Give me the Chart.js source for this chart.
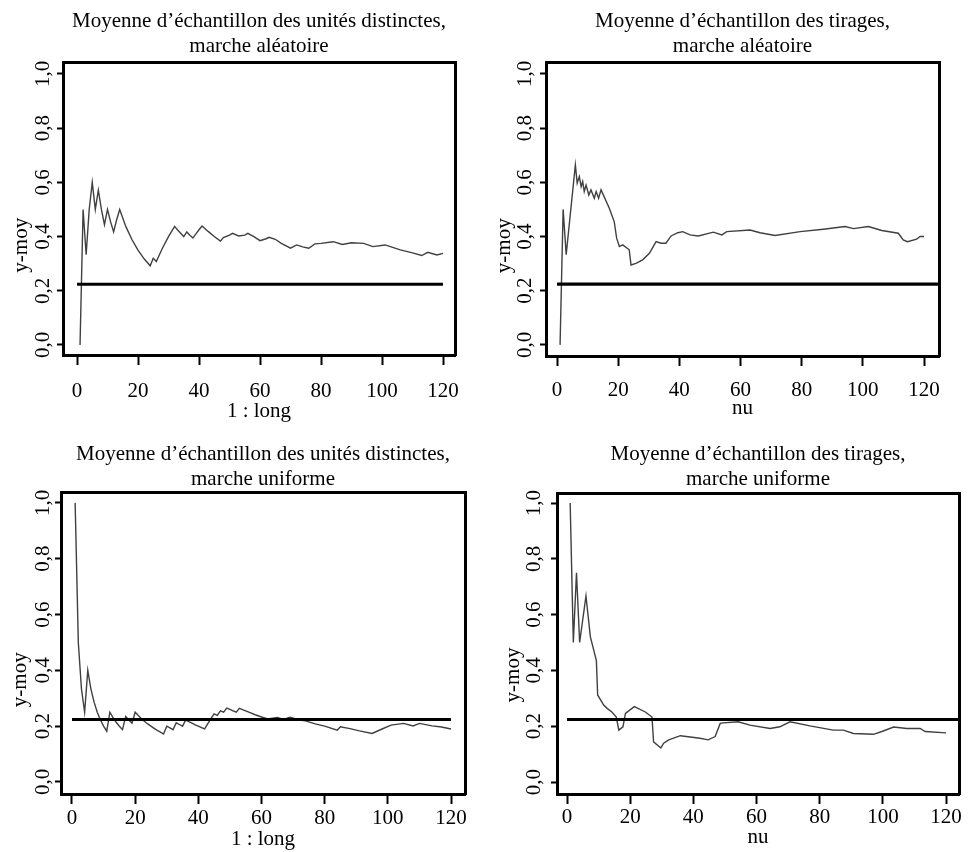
<!DOCTYPE html>
<html><head><meta charset="utf-8">
<script src="https://cdn.jsdelivr.net/npm/chart.js@4.4.1/dist/chart.umd.min.js"></script>
<style>
html,body{margin:0;padding:0;background:#fff;}
#wrap{position:relative;width:968px;height:852px;overflow:hidden;background:#fff;}
.panel{position:absolute;width:484px;height:426px;}
canvas{display:block;}
</style></head><body>
<div id="wrap">
<div class="panel" style="left:0;top:0"><canvas id="c1" width="484" height="426"></canvas></div>
<div class="panel" style="left:484px;top:0"><canvas id="c2" width="484" height="426"></canvas></div>
<div class="panel" style="left:0;top:426px"><canvas id="c3" width="484" height="426"></canvas></div>
<div class="panel" style="left:484px;top:426px"><canvas id="c4" width="484" height="426"></canvas></div>
</div>
<script>
// ---- data ----
const xTickValues = [0, 20, 40, 60, 80, 100, 120];
const yTickValues = [0, 0.2, 0.4, 0.6, 0.8, 1.0];
const yTickLabels = ['0,0', '0,2', '0,4', '0,6', '0,8', '1,0'];
const referenceLevel = 0.224;

const panelTitles = [
  ['Moyenne d\u2019échantillon des unités distinctes,', 'marche aléatoire'],
  ['Moyenne d\u2019échantillon des tirages,', 'marche aléatoire'],
  ['Moyenne d\u2019échantillon des unités distinctes,', 'marche uniforme'],
  ['Moyenne d\u2019échantillon des tirages,', 'marche uniforme']
];
const xTitles = ['1 : long', 'nu', '1 : long', 'nu'];
const yTitle = 'y-moy';

// top-left: distinct units, random walk
const p1x = [1,2,3,4,5,6,7,8,9,10,11,12,13,14,16,18,20,22,24,25,26,28,30,32,33,34,35,36,37,38,39,40,41,43,45,47,48,50,51,53,55,56,58,60,62,63,65,67,70,72,74,76,78,80,84,87,90,94,97,101,106,110,113,115,118,120];
const p1y = [0,0.5,0.333,0.5,0.6,0.5,0.571,0.5,0.444,0.5,0.455,0.417,0.462,0.5,0.4375,0.389,0.35,0.318,0.292,0.32,0.308,0.357,0.4,0.4375,0.424,0.412,0.4,0.417,0.405,0.395,0.41,0.425,0.439,0.419,0.4,0.383,0.396,0.405,0.412,0.402,0.405,0.412,0.4,0.385,0.392,0.397,0.39,0.375,0.357,0.369,0.362,0.357,0.373,0.375,0.381,0.371,0.377,0.375,0.363,0.369,0.351,0.34,0.33,0.342,0.332,0.338];

// top-right: draws, random walk
const p2x = [1,2,3,6,6.6,7.3,7.9,8.4,8.9,9.5,10.4,11.1,12.2,12.8,13.6,14.4,17.1,18.7,19.5,20.4,21.5,23.6,24.2,25.8,28,30.2,32.4,34,35.6,37.3,39.5,41.1,43.5,46.2,51.1,53.9,55.5,63.1,66.4,71.3,79.5,87.1,94.2,96.9,101.8,106.2,111.6,113.2,114.6,117.6,118.7,120];
const p2y = [0,0.5,0.333,0.664,0.597,0.621,0.584,0.603,0.566,0.59,0.553,0.572,0.541,0.566,0.541,0.572,0.504,0.455,0.394,0.363,0.369,0.351,0.295,0.301,0.314,0.338,0.381,0.375,0.375,0.402,0.414,0.418,0.406,0.402,0.416,0.406,0.418,0.424,0.414,0.404,0.418,0.427,0.437,0.429,0.437,0.422,0.412,0.387,0.381,0.39,0.4,0.4];

// bottom-left: distinct units, uniform walk
const p3x = [1,2,3,4,5,6,7,8,9,10,11,12,13,14,15,16,17,18,19,20,21,22,23,24,25,26,27,28,29,30,31,32,33,34,35,36,37,38,39,40,41,42,43,44,45,46,47,48,49,50,51,52,53,54,55,56,58,60,62,65,67,69,72,74,77,80,84,85,88,91,95,98,101,105,108,110,114,117,120];
const p3y = [1,0.5,0.333,0.25,0.4,0.333,0.286,0.25,0.222,0.2,0.182,0.25,0.231,0.214,0.2,0.1875,0.235,0.222,0.211,0.25,0.238,0.227,0.217,0.208,0.2,0.192,0.185,0.179,0.172,0.2,0.194,0.1875,0.212,0.206,0.2,0.222,0.216,0.211,0.205,0.2,0.195,0.19,0.209,0.227,0.244,0.239,0.255,0.25,0.265,0.26,0.255,0.25,0.264,0.259,0.255,0.25,0.241,0.233,0.226,0.231,0.224,0.232,0.222,0.219,0.208,0.2,0.186,0.198,0.191,0.183,0.174,0.189,0.204,0.21,0.201,0.21,0.201,0.197,0.19];

// bottom-right: draws, uniform walk
const p4x = [1,2,3,4,6,7.4,9.3,9.7,11.6,12.7,14.2,15.6,16.4,17.7,18.5,21.3,24.8,26.9,27.4,29.7,30.6,32.2,35.9,42.1,44.7,46.9,48.5,49.5,54.2,57.9,64.3,67.4,70.6,76.9,84.3,87.5,90.7,97,99.7,103.4,107.6,111.8,113.4,120];
const p4y = [1,0.5,0.75,0.5,0.667,0.52,0.435,0.312,0.276,0.264,0.251,0.233,0.186,0.198,0.246,0.27,0.251,0.233,0.144,0.122,0.139,0.151,0.166,0.157,0.151,0.163,0.21,0.212,0.216,0.204,0.192,0.198,0.216,0.201,0.186,0.186,0.174,0.171,0.181,0.197,0.192,0.192,0.181,0.176];

const refXShort = [0, 120];
const refXLong = [0, 126];

// ---- layout / style (not data) ----
const FAM = "'Liberation Serif', 'Times New Roman', serif";
const W = 484, H = 426;
const layouts = [
  {l:63, t:62, r:455, b:355, xmin:-4.59, xmax:123.93, ymin:-0.037, ymax:1.044, tt:8.4, xp:14, yp:0.5, ytt:8.4, xtb:2.4, sp:14},
  {l:62, t:62, r:455, b:356, xmin:-3.6,  xmax:124.9,  ymin:-0.041, ymax:1.044, tt:8.4, xp:12, yp:1, ytt:7.4, xtb:5.4, sp:14},
  {l:61, t:66, r:465, b:368, xmin:-3.48, xmax:124.43, ymin:-0.043, ymax:1.039, tt:15.4, xp:1.7, yp:-2, ytt:7.4, xtb:0, sp:14},
  {l:73, t:67, r:475, b:368, xmin:-3.17, xmax:124.1,  ymin:-0.043, ymax:1.036, tt:15.4, xp:1, yp:3.5, ytt:16.4, xtb:2.4, sp:12}
];

function pairs(xs, ys) { return xs.map((x, i) => ({x: x, y: ys[i]})); }

function buildPanel(id, L, title, xTitle, xs, ys, refX) {
  const font = {family: FAM, size: 21, weight: 'normal', lineHeight: 1.2};
  return new Chart(document.getElementById(id), {
    type: 'line',
    data: {datasets: [
      {data: pairs(xs, ys), borderColor: '#404040', borderWidth: 1.4, pointRadius: 0, tension: 0, order: 2},
      {data: refX.map(x => ({x: x, y: referenceLevel})), borderColor: '#000', borderWidth: 3.2, pointRadius: 0, order: 1}
    ]},
    options: {
      responsive: false, animation: false, events: [],
      layout: {padding: {left: 0, top: 0, right: W - L.r, bottom: 0}},
      plugins: {
        legend: {display: false}, tooltip: {enabled: false},
        title: {display: true, fullSize: false, text: title, color: '#000', font: font,
                padding: {top: L.tt, bottom: L.t - L.tt - 50.4}}
      },
      scales: {
        x: {type: 'linear', position: 'bottom', min: L.xmin, max: L.xmax,
          afterBuildTicks: s => { s.ticks = xTickValues.map(v => ({value: v})); },
          afterFit: s => { s.height = H - L.b; },
          ticks: {autoSkip: false, minRotation: 0, maxRotation: 0, color: '#000', font: font, padding: L.xp,
                  callback: v => String(v)},
          grid: {display: true, drawOnChartArea: false, drawTicks: true, tickLength: 10, tickWidth: 2, tickColor: '#000'},
          border: {display: true, color: '#000', width: 3},
          title: {display: true, text: xTitle, color: '#000', font: font, padding: {top: 0, bottom: L.xtb}}
        },
        y: {type: 'linear', position: 'left', min: L.ymin, max: L.ymax,
          afterBuildTicks: s => { s.ticks = yTickValues.map(v => ({value: v})); },
          afterFit: s => { s.width = L.l; },
          ticks: {autoSkip: false, minRotation: 90, maxRotation: 90, crossAlign: 'center', color: '#000', font: font, padding: L.yp,
                  callback: (v, i) => yTickLabels[i]},
          grid: {display: true, drawOnChartArea: false, drawTicks: true, tickLength: 6, tickWidth: 2, tickColor: '#000'},
          border: {display: true, color: '#000', width: 3},
          title: {display: true, text: yTitle + ' '.repeat(L.sp), color: '#000', font: font, padding: {top: L.ytt, bottom: 0}}
        },
        x2: {type: 'linear', position: 'top', min: 0, max: 1,
          afterFit: s => { s.height = 0; },
          ticks: {display: false}, grid: {display: false, drawTicks: false},
          border: {display: true, color: '#000', width: 3}
        },
        y2: {type: 'linear', position: 'right', min: 0, max: 1,
          afterFit: s => { s.width = 0; },
          ticks: {display: false}, grid: {display: false, drawTicks: false},
          border: {display: true, color: '#000', width: 3}
        }
      }
    }
  });
}

buildPanel('c1', layouts[0], panelTitles[0], xTitles[0], p1x, p1y, refXShort);
buildPanel('c2', layouts[1], panelTitles[1], xTitles[1], p2x, p2y, refXLong);
buildPanel('c3', layouts[2], panelTitles[2], xTitles[2], p3x, p3y, refXShort);
buildPanel('c4', layouts[3], panelTitles[3], xTitles[3], p4x, p4y, refXLong);
</script>
</body></html>
